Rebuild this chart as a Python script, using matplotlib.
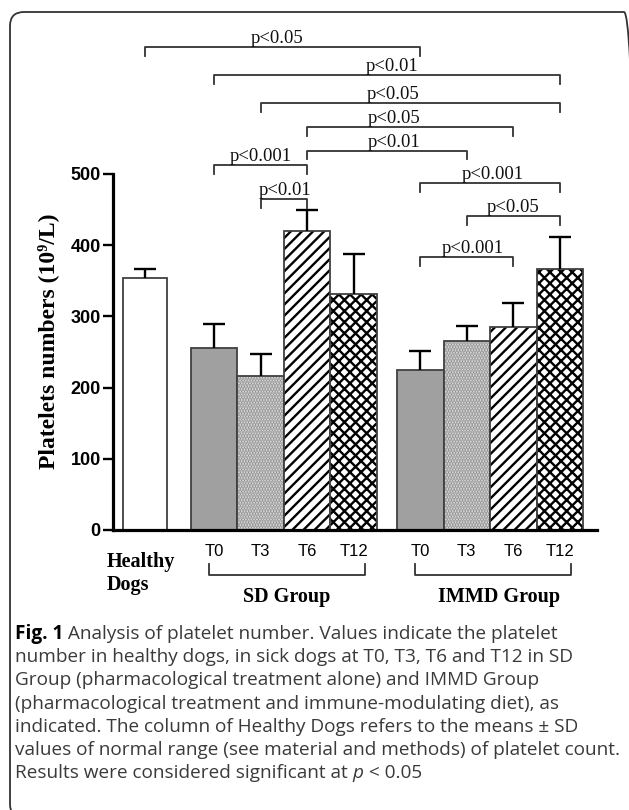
import numpy as np
import matplotlib.pyplot as plt
from matplotlib.patches import FancyBboxPatch
from matplotlib.transforms import IdentityTransform

# Platelet counts (10^9/L): mean and SD for each column
times = ['T0', 'T3', 'T6', 'T12']
group_names = ['SD Group', 'IMMD Group']
healthy_mean = 354
healthy_sd = 13
sd_mean = [255, 216, 420, 331]
sd_sd = [35, 31, 30, 57]
immd_mean = [225, 265, 285, 367]
immd_sd = [27, 22, 34, 45]

# significance brackets (column from, column to, label)
# columns: 0 = healthy, 1-4 = SD T0..T12, 5-8 = IMMD T0..T12
brackets = [(0, 5, 'p<0.05'), (1, 8, 'p<0.01'), (2, 8, 'p<0.05'),
            (3, 7, 'p<0.05'), (3, 6, 'p<0.01'), (1, 3, 'p<0.001'),
            (2, 3, 'p<0.01'), (5, 8, 'p<0.001'), (6, 8, 'p<0.05'),
            (5, 7, 'p<0.001')]

caption = [
    ' Analysis of platelet number. Values indicate the platelet',
    'number in healthy dogs, in sick dogs at T0, T3, T6 and T12 in SD',
    'Group (pharmacological treatment alone) and IMMD Group',
    '(pharmacological treatment and immune-modulating diet), as',
    'indicated. The column of Healthy Dogs refers to the means \u00b1 SD',
    'values of normal range (see material and methods) of platelet count.',
    'Results were considered significant at ',
]

# layout
W, H = 629, 810
def fx(px):
    return px / W
def fy(py):
    return 1 - py / H

bracket_y = [679, 639, 600, 566, 533, 513, 465, 488, 441, 384]
label_x = [3.52, 5.99, 6.01, 6.04, 6.04, 3.17, 3.69, 8.16, 8.60, 7.73]
healthy_x = 0.68
sd_x = 1.67 + 0.5 + np.arange(4)
immd_x = 6.10 + 0.5 + np.arange(4)
col_x = np.concatenate([[healthy_x], sd_x, immd_x])

plt.rcParams['hatch.linewidth'] = 1.7
serif = ['Liberation Serif', 'DejaVu Serif']
narrow = ['Liberation Sans Narrow', 'Liberation Sans', 'DejaVu Sans']

fig = plt.figure(figsize=(6.29, 8.10), dpi=100)
ax = fig.add_axes([fx(113.3), fy(530), fx(597 - 113.3), 356 / H])

edge = '#404040'
fills = [('#a0a0a0', None, '#a0a0a0'),
         ('#eeeeee', '......', '#8a8a8a'),
         ('white', '///', 'black'),
         ('white', 'xxx', 'black')]

# healthy dogs
ax.bar(healthy_x, healthy_mean, width=0.95, color='white', edgecolor=edge, linewidth=1.3)

# SD and IMMD groups, one fill per time point
for xs, means in [(sd_x, sd_mean), (immd_x, immd_mean)]:
    for k in range(4):
        fc, hatch, hc = fills[k]
        ax.bar(xs[k], means[k], width=1.0, color=fc, hatch=hatch, edgecolor=hc, linewidth=0)
        ax.bar(xs[k], means[k], width=1.0, fill=False, edgecolor=edge, linewidth=1.3)

# upper error bars
all_mean = np.array([healthy_mean] + sd_mean + immd_mean)
all_sd = np.array([healthy_sd] + sd_sd + immd_sd)
ax.vlines(col_x, all_mean, all_mean + all_sd, color='black', linewidth=1.7)
ax.hlines(all_mean + all_sd, col_x - 0.24, col_x + 0.24, color='black', linewidth=1.7)

# significance brackets
for (i, j, lab), yb, lx in zip(brackets, bracket_y, label_x):
    ax.plot([col_x[i], col_x[i], col_x[j], col_x[j]], [yb - 12.6, yb, yb, yb - 12.6],
            color='#333333', linewidth=1.3, clip_on=False)
    ax.text(lx, yb + 5, lab, ha='center', va='baseline', fontsize=13.5,
            family=serif, color='#111111', clip_on=False)

ax.set_xlim(0, 10.40)
ax.set_ylim(0, 500)
ax.spines['top'].set_visible(False)
ax.spines['right'].set_visible(False)
ax.spines['left'].set_linewidth(2.3)
ax.spines['bottom'].set_linewidth(2.3)
ax.set_yticks([0, 100, 200, 300, 400, 500])
ax.tick_params(axis='y', length=7, width=1.7, pad=2)
for t in ax.get_yticklabels():
    t.set_fontweight('bold')
    t.set_fontsize(13)
    t.set_family(['Liberation Sans', 'DejaVu Sans'])
ax.set_xticks(np.concatenate([sd_x, immd_x]))
ax.set_xticklabels(times + times, fontsize=12, family=narrow)
ax.tick_params(axis='x', length=0, pad=10)

# group brackets under the axis
xt = ax.get_xaxis_transform()
for xs in [sd_x, immd_x]:
    ax.plot([xs[0] - 0.11, xs[0] - 0.11, xs[-1] + 0.25, xs[-1] + 0.25],
            [-0.0955, -0.126, -0.126, -0.0955], transform=xt,
            color='#333333', linewidth=1.3, clip_on=False)

fig.text(fx(107), fy(573.5), 'Healthy\nDogs', ha='left', va='center',
         fontsize=14.5, fontweight='bold', family=serif)
fig.text(fx(286.6), fy(597), group_names[0], ha='center', va='center',
         fontsize=14.5, fontweight='bold', family=serif)
fig.text(fx(499), fy(597), group_names[1], ha='center', va='center',
         fontsize=14.5, fontweight='bold', family=serif)
fig.text(fx(48), fy(341), 'Platelets numbers (10\u2079/L)', rotation=90,
         ha='center', va='center', fontsize=17, fontweight='bold', family=serif)

# caption
renderer = fig.canvas.get_renderer()
cap_font = ['Open Sans', 'DejaVu Sans']
cap_size = 13.7
base = 639
t = fig.text(fx(15), fy(base), 'Fig. 1', fontsize=cap_size, fontweight='bold',
             family=cap_font, color='black', va='baseline')
bb = t.get_window_extent(renderer)
fig.text(bb.x1 / W, fy(base), caption[0], fontsize=cap_size, family=cap_font,
         color='#3a3a3a', va='baseline')
for n in range(1, len(caption)):
    t = fig.text(fx(15), fy(base + 23.2 * n), caption[n], fontsize=cap_size,
                 family=cap_font, color='#3a3a3a', va='baseline')
bb = t.get_window_extent(renderer)
t = fig.text(bb.x1 / W, fy(base + 23.2 * 6), 'p', fontsize=cap_size, style='italic',
             family=cap_font, color='#3a3a3a', va='baseline')
bb = t.get_window_extent(renderer)
fig.text(bb.x1 / W, fy(base + 23.2 * 6), ' < 0.05', fontsize=cap_size,
         family=cap_font, color='#3a3a3a', va='baseline')

# rounded frame
frame = FancyBboxPatch((10, -8), 628, 806, boxstyle='round,pad=0,rounding_size=14',
                       transform=IdentityTransform(), fill=False,
                       edgecolor='#333333', linewidth=1.3)
fig.add_artist(frame)

fig.savefig('out.png', dpi=100)
